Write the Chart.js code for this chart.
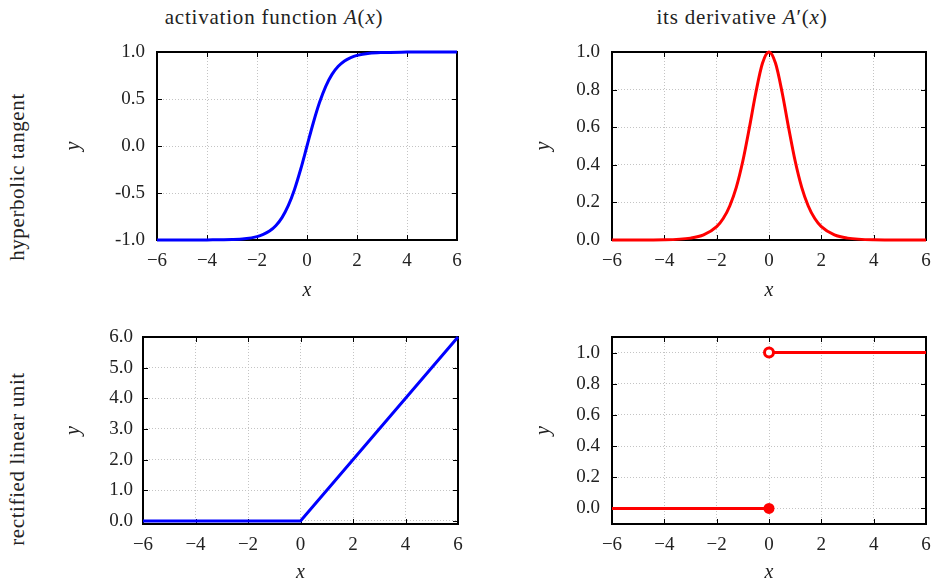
<!DOCTYPE html>
<html>
<head>
<meta charset="utf-8">
<script src="https://cdn.jsdelivr.net/npm/chart.js@4/dist/chart.umd.min.js"></script>
<style>
  body { margin: 0; background: #fff; }
  #page { position: relative; width: 937px; height: 587px; overflow: hidden; font-family: "Liberation Serif", serif; color: #222; }
  .box { position: absolute; }
  .lbl { position: absolute; font-size: 21px; white-space: nowrap; }
  .rot { transform: translate(-50%, -50%) rotate(-90deg); letter-spacing: 0.6px; }
  .ctr { transform: translate(-50%, -50%); letter-spacing: 0.8px; }
</style>
</head>
<body>
<div id="page">
  <div class="lbl ctr" style="left:274px; top:17px;">activation function <i>A</i>(<i>x</i>)</div>
  <div class="lbl ctr" style="left:742px; top:17px;">its derivative <i>A</i>′(<i>x</i>)</div>
  <div class="lbl rot" style="left:17px; top:177px;">hyperbolic tangent</div>
  <div class="lbl rot" style="left:17px; top:459px;">rectified linear unit</div>

  <div class="box" style="left:0; top:0; width:470px; height:305px;"><canvas id="tanhGraph"></canvas></div>
  <div class="box" style="left:470px; top:0; width:467px; height:305px;"><canvas id="tanhDerivGraph"></canvas></div>
  <div class="box" style="left:0; top:305px; width:470px; height:282px;"><canvas id="reluGraph"></canvas></div>
  <div class="box" style="left:470px; top:305px; width:467px; height:282px;"><canvas id="reluDerivGraph"></canvas></div>
</div>
<script>
// values
const xTicks = [-6, -4, -2, 0, 2, 4, 6];

const tanhX = [-6, -5, -4, -3, -2.5, -2, -1.75, -1.5, -1.25, -1, -0.75, -0.5, -0.25, 0, 0.25, 0.5, 0.75, 1, 1.25, 1.5, 1.75, 2, 2.5, 3, 4, 5, 6];
const tanhY = [-1.000, -1.000, -0.999, -0.995, -0.987, -0.964, -0.941, -0.905, -0.848, -0.762, -0.635, -0.462, -0.245, 0, 0.245, 0.462, 0.635, 0.762, 0.848, 0.905, 0.941, 0.964, 0.987, 0.995, 0.999, 1.000, 1.000];
const tanhTicks = [-1, -0.5, 0, 0.5, 1];

const derivX = tanhX;
const derivY = [0.000, 0.000, 0.001, 0.010, 0.027, 0.071, 0.114, 0.181, 0.280, 0.420, 0.597, 0.786, 0.940, 1.000, 0.940, 0.786, 0.597, 0.420, 0.280, 0.181, 0.114, 0.071, 0.027, 0.010, 0.001, 0.000, 0.000];
const derivTicks = [0, 0.2, 0.4, 0.6, 0.8, 1];

const reluX = [-6, 0, 6];
const reluY = [0, 0, 6];
const reluTicks = [0, 1, 2, 3, 4, 5, 6];

const stepLowX = [-6, 0];
const stepLowY = [0, 0];
const stepHighX = [0, 6];
const stepHighY = [1, 1];
const stepTicks = [0, 0.2, 0.4, 0.6, 0.8, 1];

const BLUE = 'rgb(0, 0, 255)';
const RED = 'rgb(255, 0, 0)';
const FONT = { family: '"Liberation Serif", serif', size: 19 };

function toPoints(xs, ys) {
    return xs.map((x, i) => ({ x: x, y: ys[i] }));
}

// black frame + inward tick marks on all four sides
const framePlugin = {
    id: 'frame',
    beforeDatasetsDraw(chart) {
        const { ctx, chartArea: a, scales } = chart;
        ctx.save();
        ctx.strokeStyle = '#000';
        ctx.lineWidth = 1;
        scales.x.ticks.forEach(t => {
            const px = Math.round(scales.x.getPixelForValue(t.value)) + 0.5;
            ctx.beginPath();
            ctx.moveTo(px, a.bottom); ctx.lineTo(px, a.bottom - 5);
            ctx.moveTo(px, a.top); ctx.lineTo(px, a.top + 5);
            ctx.stroke();
        });
        scales.y.ticks.forEach(t => {
            const py = Math.round(scales.y.getPixelForValue(t.value)) + 0.5;
            ctx.beginPath();
            ctx.moveTo(a.left, py); ctx.lineTo(a.left + 5, py);
            ctx.moveTo(a.right, py); ctx.lineTo(a.right - 5, py);
            ctx.stroke();
        });
        ctx.lineWidth = 2;
        ctx.strokeRect(a.left, a.top, a.right - a.left, a.bottom - a.top);
        ctx.restore();
    }
};

function makeChart(canvasId, datasets, yOpts, layout) {
    return new Chart(document.getElementById(canvasId), {
        type: 'line',
        data: { datasets: datasets },
        options: {
            animation: false,
            responsive: true,
            maintainAspectRatio: false,
            layout: { padding: { top: layout.top, right: layout.right, left: 0, bottom: 0 } },
            plugins: {
                legend: { display: false },
                tooltip: { enabled: false }
            },
            scales: {
                x: {
                    type: 'linear',
                    min: -6,
                    max: 6,
                    afterBuildTicks: s => { s.ticks = xTicks.map(v => ({ value: v })); },
                    afterFit: s => {
                        s.height = layout.xHeight;
                        s.paddingLeft = 0;
                        s.paddingRight = 0;
                    },
                    grid: { color: '#c4c4c4', lineWidth: 1, drawTicks: false },
                    border: { display: false, dash: [1, 2] },
                    ticks: {
                        padding: 10,
                        color: '#222',
                        font: FONT,
                        maxRotation: 0,
                        callback: v => (v < 0 ? '\u2212' + Math.abs(v) : String(v))
                    },
                    title: { display: true, text: 'x', color: '#222', font: { ...FONT, size: 20, style: 'italic' }, padding: { top: 0, bottom: layout.xTitlePad } }
                },
                y: {
                    type: 'linear',
                    min: yOpts.min,
                    max: yOpts.max,
                    afterBuildTicks: s => { s.ticks = yOpts.ticks.map(v => ({ value: v })); },
                    afterFit: s => {
                        s.width = layout.yWidth;
                        s.paddingTop = 0;
                        s.paddingBottom = 0;
                    },
                    grid: { color: '#c4c4c4', lineWidth: 1, drawTicks: false },
                    border: { display: false, dash: [1, 2] },
                    ticks: {
                        padding: layout.yTickPad,
                        color: '#222',
                        font: FONT,
                        callback: v => v.toFixed(1)
                    },
                    title: { display: true, text: 'y', color: '#222', font: { ...FONT, size: 20, style: 'italic' }, padding: { top: layout.yTitlePad, bottom: 0 } }
                }
            }
        },
        plugins: [framePlugin]
    });
}

function lineSet(xs, ys, color, extra) {
    return Object.assign({
        data: toPoints(xs, ys),
        borderColor: color,
        backgroundColor: color,
        borderWidth: 3,
        pointRadius: 0,
        fill: false,
        clip: 4
    }, extra || {});
}

makeChart('tanhGraph',
    [lineSet(tanhX, tanhY, BLUE, { cubicInterpolationMode: 'monotone' })],
    { min: -1, max: 1, ticks: tanhTicks },
    { top: 52, right: 13, xHeight: 65, yWidth: 157, xTitlePad: 2, yTitlePad: 62, yTickPad: 12 });

makeChart('tanhDerivGraph',
    [lineSet(derivX, derivY, RED, { cubicInterpolationMode: 'monotone' })],
    { min: 0, max: 1, ticks: derivTicks },
    { top: 52, right: 11, xHeight: 65, yWidth: 142, xTitlePad: 2, yTitlePad: 62, yTickPad: 12 });

makeChart('reluGraph',
    [lineSet(reluX, reluY, BLUE)],
    { min: -0.1, max: 6, ticks: reluTicks },
    { top: 32, right: 12, xHeight: 63, yWidth: 143, xTitlePad: 2, yTitlePad: 62, yTickPad: 10 });

makeChart('reluDerivGraph',
    [
        lineSet(stepHighX, stepHighY, RED, {
            pointRadius: [4.5, 0],
            pointBorderWidth: 3,
            pointBackgroundColor: '#fff',
            pointBorderColor: RED
        }),
        lineSet(stepLowX, stepLowY, RED, {
            pointRadius: [0, 5.5],
            pointBorderWidth: 0,
            pointBackgroundColor: RED
        })
    ],
    { min: -0.1, max: 1.1, ticks: stepTicks },
    { top: 32, right: 11, xHeight: 63, yWidth: 142, xTitlePad: 2, yTitlePad: 62, yTickPad: 12 });
</script>
</body>
</html>
